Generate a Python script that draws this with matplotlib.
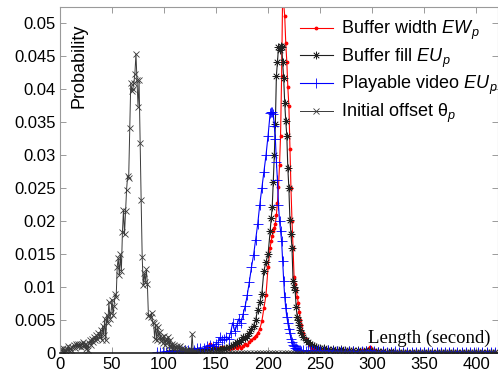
import numpy as np
import matplotlib
matplotlib.use("Agg")
import matplotlib.pyplot as plt

plt.rcParams['font.family'] = ['Liberation Sans', 'DejaVu Sans']
plt.rcParams['mathtext.fontset'] = 'custom'
plt.rcParams['mathtext.rm'] = 'Liberation Sans'
plt.rcParams['mathtext.it'] = 'Liberation Sans:italic'
plt.rcParams['mathtext.sf'] = 'Liberation Sans'

# ---------------- data ----------------
# Initial offset theta_p : 1-s bins 0..132, then sparse zero points
offset_x = list(range(0, 133)) + list(range(135, 421, 3))
offset_head = [
    0.0006, 0.0004, 0.0003, 0.0008, 0.0002, 0.0005, 0.0003, 0.0006, 0.0011, 0.0004,
    0.0007, 0.0005, 0.0009, 0.0012, 0.0008, 0.0013, 0.0010, 0.0014, 0.0011, 0.0013,
    0.0009, 0.0014, 0.0016, 0.0010, 0.0013, 0.0006, 0.0012, 0.0005, 0.0015, 0.0019,
    0.0012, 0.0022, 0.0017, 0.0025, 0.0019, 0.0027, 0.0021, 0.0031, 0.0024, 0.0035,
    0.0020, 0.0041, 0.0028, 0.0052, 0.0019, 0.0058, 0.0046, 0.0077, 0.0052, 0.0061,
    0.0081, 0.0058, 0.0072, 0.0089, 0.0085, 0.0131, 0.0144, 0.0118, 0.0150, 0.0125,
    0.0183, 0.0217, 0.0180, 0.0215, 0.0248, 0.0268, 0.0265, 0.0341, 0.0409, 0.0398,
    0.0401, 0.0410, 0.0424, 0.0454, 0.0414, 0.0374, 0.0414, 0.0318, 0.0232, 0.0146,
    0.0103, 0.0121, 0.0108, 0.0127, 0.0104, 0.0056, 0.0057, 0.0054, 0.0060, 0.0047,
    0.0045, 0.0022, 0.0043, 0.0020, 0.0040, 0.0025, 0.0032, 0.0018, 0.0024, 0.0015,
    0.0026, 0.0012, 0.0021, 0.0016, 0.0025, 0.0011, 0.0019, 0.0009, 0.0014, 0.0008,
    0.0012, 0.0006, 0.0010, 0.0004, 0.0009, 0.0010, 0.0005, 0.0007, 0.0004, 0.0006,
    0.0003, 0.0005, 0.0002, 0.0004, 0.0002, 0.0003, 0.0001, 0.0029, 0.0002, 0.0001,
    0.0003, 0.0001, 0.0000,
]
offset_tail = [
    0, 0, 0, 0, 0, 0, 0, 0, 0, 0, 0, 0, 0, 0, 0, 0, 0, 0, 0, 0,
    0, 0, 0, 0, 0, 0, 0, 0, 0, 0, 0, 0, 0, 0, 0, 0, 0, 0, 0, 0,
    0, 0, 0, 0, 0, 0, 0, 0, 0, 0, 0, 0, 0, 0, 0, 0, 0, 0, 0, 0,
    0, 0, 0, 0, 0, 0, 0, 0, 0, 0, 0, 0, 0, 0, 0, 0, 0, 0, 0, 0,
    0, 0, 0, 0, 0, 0, 0, 0, 0, 0, 0, 0, 0, 0, 0, 0,
]
offset_y = offset_head + offset_tail[:len(offset_x) - len(offset_head)]

# Common length grid for the other three distributions
length_x = (list(range(90, 151, 3)) + list(range(152, 203, 2)) +
            list(range(203, 233, 1)) + list(range(234, 251, 2)) +
            list(range(254, 419, 4)))

nan = np.nan
# Buffer width EW_p (red)
ew = [
    nan, nan, nan, nan, nan, nan, nan, nan, nan, nan, nan,
    0.0001, 0.0002, 0.0003, 0.0005, 0.0004, 0.0006, 0.0008, 0.0014, 0.0009, 0.0007,
    0.0008, 0.0006, 0.0009, 0.0007, 0.0008, 0.0006, 0.0009, 0.0007, 0.0010, 0.0008,
    0.0011, 0.0008, 0.0010, 0.0013, 0.0012, 0.0016, 0.0020, 0.0023, 0.0026, 0.0030,
    0.0036, 0.0048, 0.0068, 0.0088, 0.0130, 0.0160,
    0.0170, 0.0178, 0.0185, 0.0190, 0.0196, 0.0210, 0.0228, 0.0252, 0.0285, 0.0330,
    0.0420, 0.0545, 0.0530, 0.0511, 0.0470, 0.0442, 0.0403, 0.0375, 0.0310, 0.0250,
    0.0200, 0.0160, 0.0115, 0.0105, 0.0095, 0.0085, 0.0076, 0.0062, 0.0050, 0.0042,
    0.0030, 0.0021, 0.0015, 0.0012, 0.0008, 0.0008, 0.0007, 0.0006, 0.0006,
    0.0005, 0.0006, 0.0005, 0.0005, 0.0004, 0.0005, 0.0004, 0.0004, 0.0003, 0.0004,
    0.0005, 0.0009, 0.0005, 0.0003, 0.0003, 0.0002, 0.0003, 0.0002, 0.0002, 0.0002,
    0.0002, 0.0002, 0.0001, 0.0002, 0.0001, 0.0002, 0.0001, 0.0001, 0.0002, 0.0001,
    0.0001, 0.0001, 0.0001, 0.0001, 0.0001, 0.0001, 0.0001, 0.0001, 0.0001, 0.0001,
    0.0001, 0.0001,
]
# Buffer fill EU_p (black asterisks)
eu = [
    nan, nan, nan, nan, nan,
    0.0001, 0.0002, 0.0001, 0.0002, 0.0002, 0.0003, 0.0002, 0.0004, 0.0003, 0.0004,
    0.0005, 0.0004, 0.0006, 0.0005, 0.0007, 0.0006,
    0.0006, 0.0005, 0.0007, 0.0006, 0.0008, 0.0009, 0.0010, 0.0012, 0.0014, 0.0017,
    0.0016, 0.0020, 0.0024, 0.0023, 0.0026, 0.0030, 0.0036, 0.0041, 0.0050, 0.0066,
    0.0077, 0.0090, 0.0125, 0.0138, 0.0150, 0.0185,
    0.0205, 0.0222, 0.0260, 0.0300, 0.0348, 0.0421, 0.0441, 0.0464, 0.0460, 0.0466,
    0.0464, 0.0441, 0.0417, 0.0379, 0.0352, 0.0330, 0.0280, 0.0250, 0.0202, 0.0180,
    0.0159, 0.0110, 0.0100, 0.0095, 0.0070, 0.0055, 0.0050, 0.0042, 0.0035, 0.0030,
    0.0024, 0.0019, 0.0016, 0.0014, 0.0012, 0.0010, 0.0009, 0.0008, 0.0007,
    0.0007, 0.0006, 0.0006, 0.0005, 0.0006, 0.0005, 0.0004, 0.0004, 0.0004, 0.0003,
    0.0004, 0.0005, 0.0003, 0.0003, 0.0003, 0.0002, 0.0003, 0.0002, 0.0002, 0.0002,
    0.0002, 0.0002, 0.0001, 0.0002, 0.0001, 0.0002, 0.0001, 0.0001, 0.0001, 0.0002,
    0.0001, 0.0001, 0.0001, 0.0001, 0.0001, 0.0001, 0.0001, 0.0001, 0.0001, 0.0001,
    0.0001, 0.0001,
]
# Playable video EU_p (blue)
play = [
    nan, 0.0001, 0.0001, 0.0002, 0.0002, 0.0003, 0.0002, 0.0003, 0.0004, 0.0003,
    0.0005, 0.0004, 0.0006, 0.0005, 0.0007, 0.0008, 0.0007, 0.0010, 0.0012, 0.0011,
    0.0014,
    0.0016, 0.0024, 0.0019, 0.0022, 0.0025, 0.0021, 0.0031, 0.0046, 0.0033, 0.0042,
    0.0052, 0.0046, 0.0059, 0.0071, 0.0088, 0.0108, 0.0130, 0.0148, 0.0172, 0.0195,
    0.0225, 0.0250, 0.0275, 0.0300, 0.0330, 0.0364,
    0.0366, 0.0365, 0.0362, 0.0345, 0.0325, 0.0290, 0.0262, 0.0225, 0.0200, 0.0185,
    0.0170, 0.0140, 0.0110, 0.0085, 0.0068, 0.0055, 0.0045, 0.0036, 0.0030, 0.0022,
    0.0016, 0.0012, 0.0010, 0.0008, 0.0007, 0.0006, 0.0005, 0.0004, 0.0004, 0.0003,
    0.0004, 0.0003, 0.0004, 0.0003, 0.0004, 0.0003, 0.0003, 0.0004, 0.0003,
    0.0003, 0.0004, 0.0003, 0.0003, 0.0003, 0.0002, 0.0003, 0.0003, 0.0002, 0.0003,
    0.0003, 0.0004, 0.0003, 0.0002, 0.0003, 0.0002, 0.0002, 0.0003, 0.0002, 0.0002,
    0.0002, 0.0002, 0.0002, 0.0002, 0.0002, 0.0002, 0.0002, 0.0002, 0.0002, 0.0002,
    0.0002, 0.0002, 0.0002, 0.0002, 0.0002, 0.0002, 0.0002, 0.0002, 0.0002, 0.0002,
    0.0002, 0.0002,
]

x_ticks = [0, 50, 100, 150, 200, 250, 300, 350, 400]
y_ticks = [0, 0.005, 0.01, 0.015, 0.02, 0.025, 0.03, 0.035, 0.04, 0.045, 0.05]
y_tick_labels = ['0', '0.005', '0.01', '0.015', '0.02', '0.025', '0.03',
                 '0.035', '0.04', '0.045', '0.05']

labels = ['Buffer width $EW_{\\,p}$', 'Buffer fill $EU_{\\,p}$',
          'Playable video $EU_{\\,p}$', 'Initial offset θ$_{p}$']

# ---------------- plot ----------------
fig = plt.figure(figsize=(4.98, 3.77), dpi=100)
ax = fig.add_axes([60 / 498, 24 / 377, 438 / 498, 346 / 377])

ax.plot(length_x, ew, color='#ff0000', lw=0.8, marker='.', ms=3.5,
        label=labels[0])
ax.plot(length_x, eu, color='#202020', lw=0.8, marker=(8, 2, 0), ms=5.5,
        mew=0.5, label=labels[1])
ax.plot(length_x, play, color='#0000ff', lw=0.8, marker='+', ms=6.5,
        mew=0.6, label=labels[2])
ax.plot(offset_x, offset_y, color='#3a3a3a', lw=0.7, marker='x', ms=4.2,
        mew=0.6, label=labels[3])

ax.set_xlim(0, 421)
ax.set_ylim(0, 0.0525)
ax.set_xticks(x_ticks)
ax.set_yticks(y_ticks)
ax.set_yticklabels(y_tick_labels)

for s in ax.spines.values():
    s.set_color('#9a9a9a')
    s.set_linewidth(0.8)
ax.spines['bottom'].set_color('#202020')
ax.spines['bottom'].set_linewidth(1.2)
ax.tick_params(direction='in', length=4, width=0.7, color='#9a9a9a',
               labelsize=12, top=True, right=True, pad=3)

ax.text(0.043, 0.83, 'Probability', transform=ax.transAxes, rotation=90,
        ha='center', va='center', fontsize=13)
ax.text(0.984, 0.029, 'Length (second)', transform=ax.transAxes,
        ha='right', va='baseline', fontsize=13.5, family='Liberation Serif')

leg = ax.legend(loc='upper left', bbox_to_anchor=(0.548, 0.966), frameon=False,
                fontsize=13, borderpad=0, borderaxespad=0, handlelength=1.8,
                handletextpad=0.45, labelspacing=0.25)

fig.savefig('out.png', dpi=100)
